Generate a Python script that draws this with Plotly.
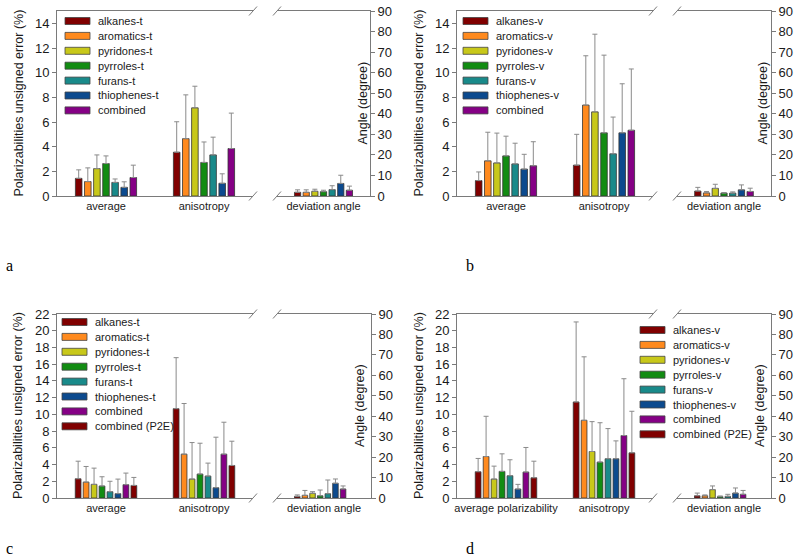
import plotly.graph_objects as go

W, H = 800, 560

# ---------------- data ----------------
series_t = ["alkanes-t", "aromatics-t", "pyridones-t", "pyrroles-t", "furans-t", "thiophenes-t", "combined"]
series_v = ["alkanes-v", "aromatics-v", "pyridones-v", "pyrroles-v", "furans-v", "thiophenes-v", "combined"]
series_c = series_t + ["combined (P2E)"]
series_d = series_v + ["combined (P2E)"]

groups_abc = ["average", "anisotropy"]
groups_d = ["average polarizability", "anisotropy"]
dev_group = ["deviation angle"]

# panel a: values and upper ends of the error bars
a_avg = [1.43, 1.17, 2.22, 2.63, 1.10, 0.70, 1.50]
a_avg_top = [2.12, 2.28, 3.33, 3.25, 1.38, 1.15, 2.50]
a_ani = [3.55, 4.65, 7.15, 2.72, 3.33, 1.03, 3.85]
a_ani_top = [6.02, 8.20, 8.90, 4.38, 4.77, 1.80, 6.72]
a_dev = [1.8, 1.8, 2.3, 2.1, 3.1, 6.1, 2.8]
a_dev_top = [3.0, 3.0, 3.3, 2.8, 5.0, 10.1, 4.8]

# panel b
b_avg = [1.25, 2.85, 2.68, 3.25, 2.60, 2.18, 2.45]
b_avg_top = [1.95, 5.17, 5.10, 4.85, 4.28, 3.38, 4.40]
b_ani = [2.50, 7.37, 6.82, 5.12, 3.42, 5.12, 5.33]
b_ani_top = [5.00, 11.37, 13.12, 11.42, 6.40, 9.10, 10.30]
b_dev = [2.4, 1.5, 3.7, 1.4, 1.4, 3.0, 2.2]
b_dev_top = [4.2, 2.2, 5.7, 1.7, 2.0, 5.4, 3.8]

# panel c
c_avg = [2.30, 1.90, 1.63, 1.43, 0.75, 0.52, 1.59, 1.50]
c_avg_top = [4.40, 3.77, 3.57, 2.54, 2.00, 2.26, 2.98, 2.46]
c_ani = [10.68, 5.24, 2.26, 2.86, 2.62, 1.23, 5.24, 3.89]
c_ani_top = [16.78, 11.30, 6.63, 6.55, 4.17, 7.27, 9.06, 6.79]
c_dev = [0.8, 1.3, 2.3, 1.1, 2.1, 7.2, 4.4, None]
c_dev_top = [1.5, 3.7, 3.1, 3.9, 8.8, 9.3, 5.9, None]

# panel d
d_avg = [3.14, 4.96, 2.26, 3.18, 2.66, 1.07, 3.10, 2.42]
d_avg_top = [4.73, 9.77, 3.81, 5.28, 4.57, 1.63, 6.04, 4.40]
d_ani = [11.48, 9.29, 5.56, 4.29, 4.69, 4.69, 7.47, 5.40]
d_ani_top = [21.05, 16.88, 9.13, 9.00, 8.30, 6.83, 14.26, 10.37]
d_dev = [1.1, 1.1, 4.1, 0.65, 0.8, 2.4, 1.8, None]
d_dev_top = [2.4, 1.5, 5.9, 1.0, 1.8, 4.9, 3.7, None]

left_ticks_ab = list(range(0, 15, 2))
left_ticks_cd = list(range(0, 23, 2))
right_ticks = list(range(0, 91, 10))

colors = ["#800000", "#ff8a1e", "#c8c81a", "#128c12", "#198a8a", "#0c4a8e", "#850085", "#800000"]

# ---------------- layout geometry (pixels) ----------------
panels = [
    dict(label="a", names=series_t, groups=groups_abc, avg=a_avg, avg_top=a_avg_top, ani=a_ani, ani_top=a_ani_top,
         dev=a_dev, dev_top=a_dev_top, lticks=left_ticks_ab, lmax=15,
         x1=(57, 253), x2=(277, 370), y=(11, 196), leg=(65, 21), lab=(4, 265), angle_x=362, ltitle_x=18),
    dict(label="b", names=series_v, groups=groups_abc, avg=b_avg, avg_top=b_avg_top, ani=b_ani, ani_top=b_ani_top,
         dev=b_dev, dev_top=b_dev_top, lticks=left_ticks_ab, lmax=15,
         x1=(457, 653), x2=(677, 771), y=(11, 196), leg=(463, 21), lab=(464, 265), angle_x=762, ltitle_x=418),
    dict(label="c", names=series_c, groups=groups_abc, avg=c_avg, avg_top=c_avg_top, ani=c_ani, ani_top=c_ani_top,
         dev=c_dev, dev_top=c_dev_top, lticks=left_ticks_cd, lmax=22,
         x1=(57, 253), x2=(277, 371), y=(314, 498), leg=(62, 322), lab=(4, 548), angle_x=360, ltitle_x=18),
    dict(label="d", names=series_d, groups=groups_d, avg=d_avg, avg_top=d_avg_top, ani=d_ani, ani_top=d_ani_top,
         dev=d_dev, dev_top=d_dev_top, lticks=left_ticks_cd, lmax=22,
         x1=(457, 653), x2=(677, 771), y=(314, 498), leg=(640, 330), lab=(464, 548), angle_x=760, ltitle_x=419),
]
LEG_ROW = 14.9
SW_W, SW_H = 25, 7

FONT = "Liberation Sans, Arial, sans-serif"
AXC = "#7a7a7a"
TXT = "#1a1a1a"


def px(p):
    return p / W


def py(p):
    return 1 - p / H


def diff(top, val):
    return [(t - v) if (t is not None and v is not None) else 0 for t, v in zip(top, val)]


fig = go.Figure()
layout = dict(shapes=[], annotations=[])

for k, P in enumerate(panels):
    n1, n2 = 2 * k + 1, 2 * k + 2
    s1 = "" if n1 == 1 else str(n1)
    s2 = str(n2)
    ani_err = diff(P["ani_top"], P["ani"])
    avg_err = diff(P["avg_top"], P["avg"])
    dev_err = diff(P["dev_top"], P["dev"])
    for j, name in enumerate(P["names"]):
        eb = dict(type="data", symmetric=False, color="#8a8a8a", thickness=1, width=2.5)
        mk = dict(color=colors[j], line=dict(color="#333333", width=0.8))
        fig.add_trace(go.Bar(
            x=P["groups"], y=[P["avg"][j], P["ani"][j]],
            error_y=dict(eb, array=[avg_err[j], ani_err[j]], arrayminus=[0, 0]),
            marker=mk, name=name, showlegend=False,
            xaxis="x" + s1, yaxis="y" + s1, hoverinfo="y+name"))
        fig.add_trace(go.Bar(
            x=dev_group, y=[P["dev"][j]],
            error_y=dict(eb, array=[dev_err[j]], arrayminus=[0]),
            marker=mk, name=name, showlegend=False,
            xaxis="x" + s2, yaxis="y" + s2, hoverinfo="y+name"))

        # legend entry (swatch + label)
        lx, ly = P["leg"]
        cy = ly + j * LEG_ROW
        layout["shapes"].append(dict(type="rect", xref="paper", yref="paper",
                                     x0=px(lx), x1=px(lx + SW_W), y0=py(cy + SW_H / 2), y1=py(cy - SW_H / 2),
                                     fillcolor=colors[j], line=dict(color="#444444", width=0.8)))
        layout["annotations"].append(dict(text=name, xref="paper", yref="paper",
                                          x=px(lx + SW_W + 6), y=py(cy), showarrow=False,
                                          xanchor="left", yanchor="middle",
                                          font=dict(family=FONT, size=11, color=TXT)))

    y0, y1 = P["y"]
    ydom = [py(y1), py(y0)]
    common_x = dict(type="category", showline=True, mirror=True, linecolor=AXC, linewidth=1,
                    ticks="", showgrid=False, zeroline=False, automargin=False,
                    tickfont=dict(family=FONT, size=11, color=TXT), fixedrange=True)
    layout["xaxis" + s1] = dict(common_x, domain=[px(P["x1"][0]), px(P["x1"][1])], anchor="y" + s1)
    layout["xaxis" + s2] = dict(common_x, domain=[px(P["x2"][0]), px(P["x2"][1])], anchor="y" + s2)
    common_y = dict(showline=True, mirror=False, linecolor=AXC, linewidth=1, ticks="outside",
                    ticklen=4, tickcolor=AXC, showgrid=False, zeroline=False, automargin=False,
                    tickfont=dict(family=FONT, size=13, color=TXT), domain=ydom, fixedrange=True)
    layout["yaxis" + s1] = dict(common_y, anchor="x" + s1, side="left", range=[0, P["lmax"]],
                                tickvals=P["lticks"])
    layout["yaxis" + s2] = dict(common_y, anchor="x" + s2, side="right", range=[0, 90],
                                tickvals=right_ticks)

    # axis break marks
    for xb in (P["x1"][1], P["x2"][0]):
        for yb in (y0, y1):
            layout["shapes"].append(dict(type="line", xref="paper", yref="paper",
                                         x0=px(xb - 4), x1=px(xb + 4), y0=py(yb + 4.5), y1=py(yb - 4.5),
                                         line=dict(color=AXC, width=1)))
    # axis titles
    layout["annotations"].append(dict(text="Polarizabilities unsigned error (%)", xref="paper", yref="paper",
                                      x=px(P["ltitle_x"]), y=py((y0 + y1) / 2), textangle=-90,
                                      showarrow=False, xanchor="center", yanchor="middle",
                                      font=dict(family=FONT, size=12.5, color=TXT)))
    layout["annotations"].append(dict(text="Angle (degree)", xref="paper", yref="paper",
                                      x=px(P["angle_x"]), y=py((y0 + y1) / 2), textangle=-90,
                                      showarrow=False, xanchor="center", yanchor="middle",
                                      font=dict(family=FONT, size=12.5, color=TXT)))
    # panel label
    layout["annotations"].append(dict(text=P["label"], xref="paper", yref="paper",
                                      x=px(P["lab"][0]), y=py(P["lab"][1]), showarrow=False,
                                      xanchor="left", yanchor="middle",
                                      font=dict(family="Liberation Serif, Times New Roman, serif", size=16,
                                                color="#000")))

fig.update_layout(**layout)
fig.update_layout(width=W, height=H, margin=dict(l=0, r=0, t=0, b=0, pad=0),
                  paper_bgcolor="white", plot_bgcolor="white", showlegend=False,
                  barmode="group", bargap=0.35, bargroupgap=0.28,
                  font=dict(family=FONT, color=TXT))

fig.write_html("out.html", config={"displayModeBar": False},
               post_script="document.body.style.margin='0px';document.body.style.padding='0px';"
                           "document.documentElement.style.overflow='hidden';")
